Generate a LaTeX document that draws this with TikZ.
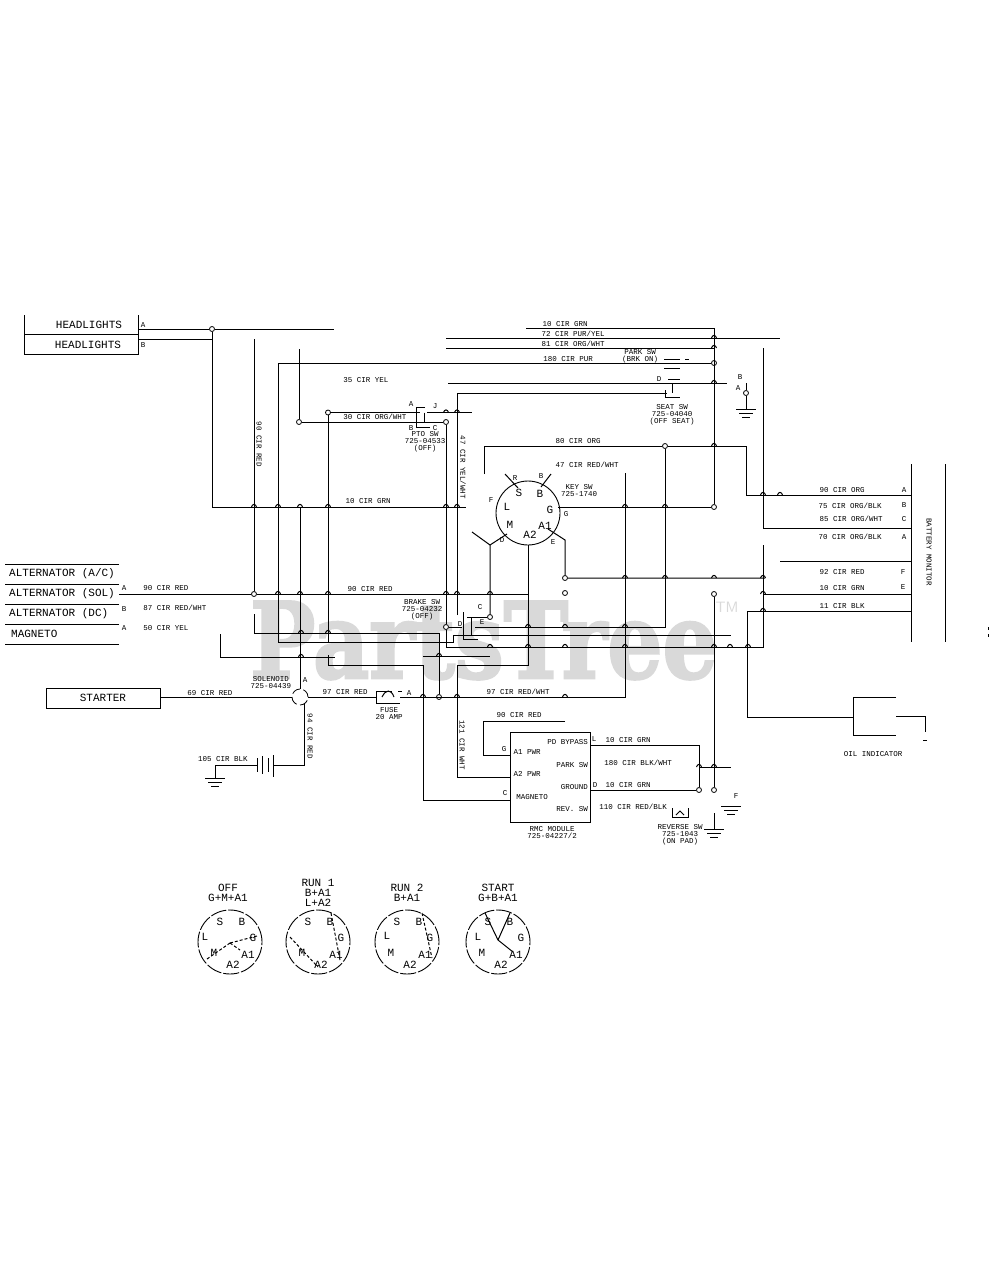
\documentclass[tikz,border=0pt]{standalone}
\usepackage{fontspec}
\setmonofont{Liberation Mono}
\newfontfamily\markfont[BoldFeatures={FakeBold=2.5}]{DejaVu Serif}
\usetikzlibrary{positioning}

\tikzset{
  wire/.style={line width=1pt},
  term/.style={circle, draw, fill=white, line width=0.8pt, inner sep=0pt, minimum size=5pt},
  lbl/.style={font=\fontsize{7.5}{7}\selectfont\ttfamily, inner sep=0pt, align=center},
  lblb/.style={font=\fontsize{11}{10}\selectfont\ttfamily, inner sep=0pt, align=center},
  dialc/.style={circle, draw, line width=0.9pt, inner sep=0pt, minimum size=64pt, dash pattern=on 16pt off 2pt},
}

% ground symbol, three bars under a point
\newcommand{\gndsym}[2]{
  \draw[wire] (#1-10,#2) -- (#1+10,#2);
  \draw[wire] (#1-7,#2+4) -- (#1+7,#2+4);
  \draw[wire] (#1-4,#2+8) -- (#1+4,#2+8);
}
% letters of one key switch dial
\newcommand{\dialmark}[3]{
  \node[dialc] (#1) at (#2,#3) {};
  \node[lblb] (#1s) at (#2-10,#3-20) {S};
  \node[lblb] (#1b) at (#2+12,#3-20) {B};
  \node[lblb] (#1g) at (#2+23,#3-4) {G};
  \node[lblb] (#1m) at (#2-16,#3+11) {M};
  \node[lblb] (#1a) at (#2+18,#3+13) {A1};
  \node[lblb] (#1z) at (#2+3,#3+23) {A2};
}

\begin{document}
\begin{tikzpicture}[x=1pt,y=-1pt]
  \useasboundingbox (0,0) rectangle (989,1280);
  \fill[white] (0,0) rectangle (989,1280);

  % 1. Watermark
  \node[anchor=base west, inner sep=0pt, text=black!15] (wm) at (250,678)
    {\scalebox{0.825}[1]{\fontsize{105}{105}\selectfont\markfont\bfseries PartsTree}};
  \node[text=black!15, inner sep=0pt, font=\fontsize{15}{15}\selectfont\sffamily] (tm) at (727,607) {TM};

  % 2. Terminals
  \node[term] (hlJ) at (212,329) {};
  \node[term] (ptoA) at (299,422) {};
  \node[term] (ptoB) at (328,412.5) {};
  \node[term] (ptoC) at (446,422) {};
  \node[term] (alt) at (254,594) {};
  \node[term] (brkA) at (446,627) {};
  \node[term] (brkB) at (490,617) {};
  \node[term] (fuseJ) at (439,697) {};
  \node[term] (keyO) at (665,446) {};
  \node[term] (parkJ) at (714,363) {};
  \node[term] (grnJ) at (714,507) {};
  \node[term] (keyE) at (565,578) {};
  \node[term] (keyF) at (565,593) {};
  \node[term] (revA) at (714,594) {};
  \node[term] (modJ) at (699,790) {};
  \node[term] (revB) at (714,790) {};
  \node[term] (gndB) at (746,393) {};
  \node[draw, circle, line width=0.8pt, inner sep=0pt, minimum size=16pt, dash pattern=on 9pt off 3.5pt] (sol) at (300,697) {};
  \node[draw, circle, line width=0.9pt, inner sep=0pt, minimum size=64pt] (key) at (528,513) {};

  % 3. Free ends of the wires
  \coordinate (hlA) at (138,329);   \coordinate (hlB) at (138,339);
  \coordinate (hlE) at (334,329);   \coordinate (hlF) at (212,339);
  \coordinate (g1) at (212,507);    \coordinate (g2) at (466,507);
  \coordinate (r0) at (254,339);    \coordinate (alm) at (119,594);
  \coordinate (r2) at (528,594);    \coordinate (p1) at (278,363);
  \coordinate (p2) at (278,642);    \coordinate (p3) at (453,642);
  \coordinate (p4) at (453,635);    \coordinate (p5) at (731,635);
  \coordinate (o1) at (299,349);    \coordinate (ptoL) at (420,422);
  \coordinate (ptoR) at (428,422);  \coordinate (ptoU) at (420,412.5);
  \coordinate (ptoV) at (427,412.5);\coordinate (o2) at (472,412.5);
  \coordinate (o3) at (328,642);    \coordinate (o4) at (328,655);
  \coordinate (o5) at (328,665);    \coordinate (o6) at (423,665);
  \coordinate (o7) at (423,800);    \coordinate (modC) at (510,800);
  \coordinate (g3) at (300.5,507);  \coordinate (g5) at (300.5,689);
  \coordinate (b1) at (446,647);    \coordinate (b2) at (763,647);
  \coordinate (b3) at (763,545);    \coordinate (s1) at (457,393);
  \coordinate (s2) at (457,615);    \coordinate (s3) at (667,393);
  \coordinate (t1) at (446,338);    \coordinate (t2) at (780,338);
  \coordinate (t3) at (446,348);    \coordinate (t4) at (714,348);
  \coordinate (t5) at (526,328);    \coordinate (t6) at (714,328);
  \coordinate (u1) at (448,383);    \coordinate (u2) at (727,383);
  \coordinate (v1) at (484,474);    \coordinate (v2) at (484,446);
  \coordinate (v3) at (746,446);    \coordinate (v4) at (746,495);
  \coordinate (v5) at (911,495);    \coordinate (g4) at (558,507);
  \coordinate (w1) at (665,627);    \coordinate (w2) at (475,627);
  \coordinate (w3) at (462,627);    \coordinate (a1) at (528,545);
  \coordinate (a2) at (528,665);    \coordinate (a3) at (457,665);
  \coordinate (a4) at (457,777);    \coordinate (a5) at (510,777);
  \coordinate (n0) at (507,534);    \coordinate (n1) at (490,545);
  \coordinate (n2) at (472,532);    \coordinate (e0) at (548,529);
  \coordinate (e1) at (565,540);    \coordinate (e2) at (765,578);
  \coordinate (f0) at (625,473);    \coordinate (f1) at (625,697);
  \coordinate (f2) at (400,697);    \coordinate (f3) at (376,697);
  \coordinate (m1) at (220,634);    \coordinate (m2) at (220,657);
  \coordinate (m3) at (335,657);    \coordinate (m4) at (423,656);
  \coordinate (m5) at (490,656);    \coordinate (c1) at (254,614);
  \coordinate (c2) at (254,633);    \coordinate (c3) at (439,633);
  \coordinate (st) at (160,697);    \coordinate (b4) at (304.5,704);
  \coordinate (b5) at (304.5,765);  \coordinate (b6) at (273,765);
  \coordinate (b7) at (257,765);    \coordinate (b8) at (215,765);
  \coordinate (b9) at (215,778);    \coordinate (d1) at (483,721);
  \coordinate (d2) at (565,721);    \coordinate (d3) at (483,755);
  \coordinate (d4) at (510,755);    \coordinate (h1) at (591,745);
  \coordinate (h2) at (699,745);    \coordinate (h3) at (591,790);
  \coordinate (h4) at (699,767);    \coordinate (h5) at (731,767);
  \coordinate (h6) at (714,813);    \coordinate (h7) at (714,829);
  \coordinate (k1) at (763,348);    \coordinate (k2) at (763,528);
  \coordinate (k3) at (911,528);    \coordinate (k4) at (780,561);
  \coordinate (k5) at (911,561);    \coordinate (k6) at (763,594);
  \coordinate (k7) at (911,594);    \coordinate (k8) at (747,611);
  \coordinate (k9) at (911,611);    \coordinate (q1) at (747,717);
  \coordinate (q2) at (853,717);    \coordinate (q3) at (853,697);
  \coordinate (q4) at (896,697);    \coordinate (q5) at (853,735);
  \coordinate (q6) at (896,735);    \coordinate (q7) at (896,716);
  \coordinate (q8) at (925,716);    \coordinate (q9) at (925,732);
  \coordinate (y1) at (746,383);    \coordinate (y2) at (746,409);
  \coordinate (sa) at (505,474);    \coordinate (sb) at (518,488);
  \coordinate (ba) at (551,474);    \coordinate (bb) at (541,487);

  % 4. Wires
  \draw[wire] (hlA) -- (hlJ) -- (hlE);
  \draw[wire] (hlB) -- (hlF);
  \draw[wire] (hlJ) -- (g1) -- (g2);
  \draw[wire] (r0) -- (alt);
  \draw[wire] (alm) -- (alt) -- (r2);
  \draw[wire] (parkJ) -- (p1) -- (p2) -- (p3) -- (p4) -- (p5);
  \draw[wire] (o1) -- (ptoA) -- (ptoL);
  \draw[wire] (ptoR) -- (ptoC);
  \draw[wire] (ptoB) -- (ptoU);
  \draw[wire] (ptoV) -- (o2);
  \draw[wire] (ptoB) -- (o3);
  \draw[wire] (o4) -- (o5) -- (o6) -- (o7) -- (modC);
  \draw[wire] (g3) -- (g5);
  \draw[wire] (ptoC) -- (brkA) -- (b1) -- (b2) -- (b3);
  \draw[wire] (s2) -- (s1) -- (s3);
  \draw[wire] (t1) -- (t2);
  \draw[wire] (t3) -- (t4);
  \draw[wire] (t5) -- (t6) -- (grnJ);
  \draw[wire] (u1) -- (u2);
  \draw[wire] (v1) -- (v2) -- (keyO) -- (v3) -- (v4) -- (v5);
  \draw[wire] (g4) -- (grnJ);
  \draw[wire] (keyO) -- (w1) -- (w2);
  \draw[wire] (brkA) -- (w3);
  \draw[wire] (a1) -- (a2) -- (a3) -- (a4) -- (a5);
  \draw[wire] (n0) -- (n1) -- (brkB);
  \draw[wire] (n2) -- (n1);
  \draw[wire] (e0) -- (e1) -- (keyE) -- (e2);
  \draw[wire] (f0) -- (f1) -- (f2);
  \draw[wire] (f3) -- (sol.east);
  \draw[wire] (m1) -- (m2) -- (m3);
  \draw[wire] (m4) -- (m5);
  \draw[wire] (c1) -- (c2) -- (c3) -- (fuseJ);
  \draw[wire] (st) -- (sol.west);
  \draw[wire] (b4) -- (b5) -- (b6);
  \draw[wire] (b7) -- (b8) -- (b9);
  \draw[wire] (d2) -- (d1) -- (d3) -- (d4);
  \draw[wire] (h1) -- (h2) -- (modJ) -- (h3);
  \draw[wire] (h4) -- (h5);
  \draw[wire] (revA) -- (revB);
  \draw[wire] (h6) -- (h7);
  \draw[wire] (k1) -- (k2) -- (k3);
  \draw[wire] (k4) -- (k5);
  \draw[wire] (k6) -- (k7);
  \draw[wire] (k9) -- (k8) -- (q1) -- (q2);
  \draw[wire] (q4) -- (q3) -- (q5) -- (q6);
  \draw[wire] (q7) -- (q8) -- (q9);
  \draw[wire] (923,740) -- (927,740);
  \draw[wire] (y1) -- (gndB) -- (y2);
  \draw[wire] (sa) -- (sb);
  \draw[wire] (ba) -- (bb);
  \draw[wire] (988,627) -- (988,630) (988,634) -- (988,637);

  % 5. Hops where wires cross
  \foreach \px/\py in {254/507,278/507,300/507,328/507,446/507,457/507,625/507,665/507,
    278/594,300/594,328/594,446/594,457/594,490/594,
    301/633,328/633,301/657,446/412.5,457/412.5,
    714/338,714/348,714/383,714/446,763/495,780/495,
    625/578,665/578,714/578,763/578,528/627,565/627,625/627,
    490/647,528/647,565/647,625/647,714/647,730/647,748/647,
    423/697,457/697,565/697,699/767,714/767,763/594,763/611,439/656}
    \draw[wire] (\px-2.5,\py) .. controls (\px-1.5,\py-3.5) and (\px+1.5,\py-3.5) .. (\px+2.5,\py);

  % 6. Left blocks
  \draw[wire] (24.5,315) -- (24.5,354) -- (138,354) -- (138,315) (24.5,334) -- (138,334);
  \node[lblb] (hlname1) at (89,325) {HEADLIGHTS};
  \node[lblb] (hlname2) at (88,345) {HEADLIGHTS};
  \node[lbl] (hla) at (143,325) {A};
  \node[lbl] (hlb) at (143,345) {B};
  \foreach \ly in {564,584,604,624,644}
    \draw[wire] (5,\ly) -- (119,\ly);
  \node[lblb, anchor=west] (al1) at (9,574) {ALTERNATOR (A/C)};
  \node[lblb, anchor=west] (al2) at (9,594) {ALTERNATOR (SOL)};
  \node[lblb, anchor=west] (al3) at (9,614) {ALTERNATOR (DC)};
  \node[lblb, anchor=west] (al4) at (11,634) {MAGNETO};
  \node[draw, line width=0.9pt, inner sep=0pt, minimum width=114pt, minimum height=20pt, lblb] (starter) at (103,698) {STARTER};

  % 7. Battery and grounds
  \draw[wire] (257,758) -- (257,772) (262.5,756) -- (262.5,774) (268,758) -- (268,772) (273,755) -- (273,777);
  \gndsym{215}{778}
  \gndsym{746}{409}
  \gndsym{731}{806}
  \gndsym{714}{829}

  % 8. Switches
  \draw[wire] (425,407.5) -- (416.5,407.5) -- (416.5,427) -- (430,427);
  \draw[wire] (424,412.5) -- (424,422) (420,422) -- (428,422);
  \draw[wire] (664,359) -- (680,359) (664,368) -- (680,368) (685,359) -- (689,359);
  \draw[wire] (668,379) -- (680,379) (672,383) -- (672,393) (665,390) -- (665,397) -- (680,397);
  \draw[wire] (463,612) -- (463,639) -- (478,639) (467,617) -- (brkB) (471,617) -- (471,636);
  \draw[wire] (376,703) -- (376,691) -- (392,691) (376,703) -- (400,703) (398,691) -- (402,691);
  \draw[wire] (382,697) .. controls (386,689) and (391,689) .. (394,697);
  \draw[wire] (672,808) -- (672,817) -- (688,817) -- (688,808);
  \draw[wire] (676,815) -- (680,811) -- (684,815);

  % 9. Module, monitor
  \draw[wire] (510.7,732) rectangle (590.7,822.6);
  \draw[wire] (911,464) -- (911,642) (945,464) -- (945,642);
  \node[lbl] (m1t) at (527,752) {A1 PWR};
  \node[lbl] (m2t) at (527,774) {A2 PWR};
  \node[lbl] (m3t) at (532,797) {MAGNETO};
  \node[lbl, anchor=east] (m4t) at (588,742) {PD BYPASS};
  \node[lbl, anchor=east] (m5t) at (588,765) {PARK SW};
  \node[lbl, anchor=east] (m6t) at (588,787) {GROUND};
  \node[lbl, anchor=east] (m7t) at (588,809) {REV. SW};
  \node[lbl] (m8t) at (552,833) {RMC MODULE\\725-04227/2};
  \node[lbl, rotate=-90] (mont) at (929,552) {BATTERY MONITOR};

  % 10. Key switch
  \node[lblb] (ks) at (519,493) {S};
  \node[lblb] (kb) at (540,494) {B};
  \node[lblb] (kl) at (507,507) {L};
  \node[lblb] (kg) at (550,510) {G};
  \node[lblb] (kn) at (510,525) {M};
  \node[lblb] (ka1) at (545,526) {A1};
  \node[lblb] (ka2) at (530,535) {A2};
  \node[lbl] (kR) at (515,478) {R};
  \node[lbl] (kB) at (541,476) {B};
  \node[lbl] (kF) at (491,500) {F};
  \node[lbl] (kG) at (566,514) {G};
  \node[lbl] (kD) at (502,540) {D};
  \node[lbl] (kE) at (553,542) {E};
  \node[lbl] (kt) at (579,491) {KEY SW\\725-1740};

  % 11. Wire labels
  \node[lbl, rotate=-90] (w90a) at (259,444) {90 CIR RED};
  \node[lbl, rotate=-90] (w47) at (463,467) {47 CIR YEL/WHT};
  \node[lbl, rotate=-90] (w121) at (462,745) {121 CIR WHT};
  \node[lbl, rotate=-90] (w94) at (310,736) {94 CIR RED};
  \node[lbl] (w10a) at (565,324) {10 CIR GRN};
  \node[lbl] (w72) at (573,334) {72 CIR PUR/YEL};
  \node[lbl] (w81) at (573,344) {81 CIR ORG/WHT};
  \node[lbl] (w180) at (568,359) {180 CIR PUR};
  \node[lbl] (w35) at (366,380) {35 CIR YEL};
  \node[lbl] (w30) at (375,417) {30 CIR ORG/WHT};
  \node[lbl] (w10b) at (368,501) {10 CIR GRN};
  \node[lbl] (w80) at (578,441) {80 CIR ORG};
  \node[lbl] (w47b) at (587,465) {47 CIR RED/WHT};
  \node[lbl] (w90b) at (166,588) {90 CIR RED};
  \node[lbl] (w87) at (175,608) {87 CIR RED/WHT};
  \node[lbl] (w50) at (166,628) {50 CIR YEL};
  \node[lbl] (w90c) at (370,589) {90 CIR RED};
  \node[lbl] (w69) at (210,693) {69 CIR RED};
  \node[lbl] (w97a) at (345,692) {97 CIR RED};
  \node[lbl] (w97b) at (518,692) {97 CIR RED/WHT};
  \node[lbl] (w105) at (223,759) {105 CIR BLK};
  \node[lbl] (w90d) at (519,715) {90 CIR RED};
  \node[lbl] (w10c) at (628,740) {10 CIR GRN};
  \node[lbl] (w180b) at (638,763) {180 CIR BLK/WHT};
  \node[lbl] (w10d) at (628,785) {10 CIR GRN};
  \node[lbl] (w110) at (633,807) {110 CIR RED/BLK};
  \node[lbl] (w90e) at (842,490) {90 CIR ORG};
  \node[lbl] (w75) at (850,506) {75 CIR ORG/BLK};
  \node[lbl] (w85) at (851,519) {85 CIR ORG/WHT};
  \node[lbl] (w70) at (850,537) {70 CIR ORG/BLK};
  \node[lbl] (w92) at (842,572) {92 CIR RED};
  \node[lbl] (w10e) at (842,588) {10 CIR GRN};
  \node[lbl] (w11) at (842,606) {11 CIR BLK};

  % 12. Pin letters
  \node[lbl] (pA1) at (904,490) {A};
  \node[lbl] (pB1) at (904,505) {B};
  \node[lbl] (pC1) at (904,519) {C};
  \node[lbl] (pA2) at (904,537) {A};
  \node[lbl] (pF1) at (903,572) {F};
  \node[lbl] (pE1) at (903,587) {E};
  \node[lbl] (pA3) at (124,588) {A};
  \node[lbl] (pB2) at (124,609) {B};
  \node[lbl] (pA4) at (124,628) {A};
  \node[lbl] (pA5) at (305,680) {A};
  \node[lbl] (pA6) at (409,693) {A};
  \node[lbl] (pG) at (504,749) {G};
  \node[lbl] (pC2) at (505,793) {C};
  \node[lbl] (pL) at (594,739) {L};
  \node[lbl] (pD1) at (595,785) {D};
  \node[lbl] (pF2) at (736,796) {F};
  \node[lbl] (pB3) at (740,377) {B};
  \node[lbl] (pA7) at (738,388) {A};
  \node[lbl] (pD2) at (659,379) {D};
  \node[lbl] (pA8) at (411,404) {A};
  \node[lbl] (pJ) at (435,406) {J};
  \node[lbl] (pB4) at (411,428) {B};
  \node[lbl] (pC3) at (435,428) {C};
  \node[lbl] (pD3) at (460,624) {D};
  \node[lbl] (pE2) at (482,622) {E};
  \node[lbl] (pC4) at (480,607) {C};

  % 13. Part names
  \node[lbl] (nPto) at (425,442) {PTO SW\\725-04533\\(OFF)};
  \node[lbl] (nSeat) at (672,415) {SEAT SW\\725-04040\\(OFF SEAT)};
  \node[lbl] (nPark) at (640,356) {PARK SW\\(BRK ON)};
  \node[lbl] (nBrake) at (422,610) {BRAKE SW\\725-04232\\(OFF)};
  \node[lbl] (nSol) at (271,683) {SOLENOID\\725-04439};
  \node[lbl] (nFuse) at (389,714) {FUSE\\20 AMP};
  \node[lbl] (nRev) at (680,835) {REVERSE SW\\725-1043\\(ON PAD)};
  \node[lbl] (nOil) at (873,754) {OIL INDICATOR};

  % 14. Key positions
  \dialmark{dA}{230}{942}
  \dialmark{dB}{318}{942}
  \dialmark{dC}{407}{942}
  \dialmark{dD}{498}{942}
  \node[lblb] (dAl) at (205,937) {L};
  \node[lblb] (dCl) at (387,936) {L};
  \node[lblb] (dDl) at (478,937) {L};
  \node[lblb] (dAt) at (228,893) {OFF\\G+M+A1};
  \node[lblb] (dBt) at (318,893) {RUN 1\\B+A1\\L+A2};
  \node[lblb] (dCt) at (407,893) {RUN 2\\B+A1};
  \node[lblb] (dDt) at (498,893) {START\\G+B+A1};
  \draw[wire, densely dashed] (230,943) -- (257,936);
  \draw[wire, densely dashed] (230,943) -- (207,959);
  \draw[wire, densely dashed] (230,943) -- (240,950);
  \draw[wire, densely dashed] (290,937) -- (318,967);
  \draw[wire, densely dashed] (331,913) -- (340,960);
  \draw[wire, densely dashed] (422,913) -- (432,958);
  \draw[wire] (485,913) -- (498,940) -- (513,952);
  \draw[wire] (510,913) -- (498,940);
\end{tikzpicture}
\end{document}
